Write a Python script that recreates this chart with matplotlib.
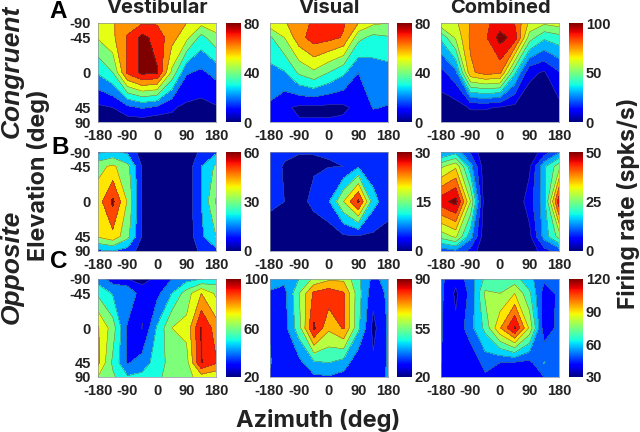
import numpy as np
import matplotlib
matplotlib.use('Agg')
import matplotlib.pyplot as plt
from matplotlib.cm import ScalarMappable
from matplotlib.colors import Normalize
from matplotlib.transforms import ScaledTranslation

azimuth = [-180, -135, -90, -45, 0, 45, 90, 135, 180]
elevation = [-90, -45, 0, 45, 90]
az_ticks = [-180, -90, 0, 90, 180]
el_ticks = [-90, -45, 0, 45, 90]

a_vest = [[56, 59, 66, 69, 69, 65, 60, 53, 56],
          [51, 58, 71, 83, 76, 64, 53, 36.5, 47],
          [31, 40, 72, 83, 81, 48, 21, 18, 23],
          [8, 10, 17, 21, 18, 11, 8, 7, 9],
          [3, 3, 5, 5, 3, 8, 4, 3, 3]]
a_vis = [[56, 59, 65, 72, 72, 71, 60, 52, 50],
         [38, 50, 66, 75, 73, 69, 43, 37, 39],
         [27, 29, 42, 48, 40, 32, 20, 25, 26],
         [18.5, 12, 8, 8, 7.5, 8, 13, 20.5, 19.5],
         [11, 11, 11, 11, 11, 12, 14, 16, 16]]
a_comb = [[68, 68, 81, 88, 94, 89, 68, 62, 65],
          [42, 62, 82, 88, 104, 96, 55, 42, 46],
          [16, 27, 78, 84, 82, 42, 12, 9, 19],
          [5, 5, 11, 11, 9, 7, 5, 6, 7],
          [4, 4, 5, 5, 5, 5, 5, 5, 4]]
b_vest = [[18, 22, 18, 5, 3, 3, 3, 12, 18],
          [37, 42, 33, 9, 3, 3, 3, 20, 32],
          [45, 62, 39, 9, 3, 3, 3, 20, 41],
          [41, 47, 33, 9, 3, 3, 3, 18, 30],
          [18, 20, 16, 5, 3, 3, 3, 12, 17]]
b_vis = [[5.5, 5.2, 5.1, 5.1, 5.1, 5.2, 5.2, 5.5, 5.5],
         [5.5, 4.9, 4.5, 4.6, 4.9, 5.0, 9.5, 7, 6],
         [5.5, 5, 3.7, 6, 9.5, 20, 31, 12, 6.5],
         [3.8, 2.5, 2.5, 2.5, 1.9, 4.2, 4.5, 4, 3.8],
         [3, 2, 2, 2, 2, 3, 3, 3, 3]]
b_comb = [[14, 18, 9, 1, 1, 1, 2, 7, 14],
          [29, 34, 17, 1, 1, 1, 4, 19, 28],
          [48, 52, 30, 1, 1, 1, 7.5, 18, 48],
          [27, 31, 17, 1, 1, 1, 3.5, 17, 27],
          [12, 14, 8, 1, 1, 1, 1, 8, 12]]
c_vest = [[45, 35, 30, 28, 31, 40, 46, 50, 55],
          [58, 49, 50, 33, 37, 50, 65, 80, 68],
          [81, 65, 38, 29.5, 51, 70, 73, 100.5, 85],
          [82, 58, 39, 44, 55, 64, 66, 100.5, 91],
          [70, 62, 51, 53, 58, 64, 66, 75, 72]]
c_vis = [[42, 43, 50, 62, 68, 68, 52, 37, 44],
         [39.5, 36, 60, 82, 86, 81, 54, 33, 42],
         [39.5, 36, 56, 91.5, 72, 81, 52, 27, 41],
         [41, 33, 37, 48, 50, 46, 32, 31.5, 41],
         [39, 33, 36, 38, 39, 36, 30, 32, 42]]
c_comb = [[52, 43, 55, 72, 72, 74, 63, 52, 53],
          [52, 38, 53, 82, 80, 90, 72, 44, 52],
          [51, 42, 56, 73, 99, 121, 88, 43, 53],
          [50, 47, 42, 54, 50, 49, 47, 60.5, 55],
          [42, 47, 47, 48, 42, 42, 42, 50, 52]]

a_vest_levels = [0, 10, 20, 30, 40, 50, 60, 70, 80]
a_vis_levels = [0, 10, 20, 30, 40, 50, 60, 70, 80]
a_comb_levels = [0, 10, 20, 30, 40, 50, 60, 70, 80, 90, 100]
b_vest_levels = [0, 10, 20, 30, 40, 50, 60]
b_vis_levels = [0, 5, 10, 15, 20, 25, 30]
b_comb_levels = [0, 5, 10, 15, 20, 25, 30, 35, 40, 45, 50]
c_vest_levels = [20, 30, 40, 50, 60, 70, 80, 90, 100]
c_vis_levels = [20, 30, 40, 50, 60, 70, 80, 90]
c_comb_levels = [30, 40, 50, 60, 70, 80, 90, 100, 110, 120]

a_ticks = ([0, 40, 80], [0, 40, 80], [0, 50, 100])
b_ticks = ([0, 30, 60], [0, 15, 30], [0, 25, 50])
c_ticks = ([20, 60, 100], [20, 55, 90], [30, 60, 90, 120])

W, H = 640, 432
fig = plt.figure(figsize=(W / 100, H / 100), dpi=100, facecolor='white')
TICK = dict(family='Liberation Sans', fontweight='bold', fontsize=10.5, color='#222222')
HEAD = ['Inter', 'DejaVu Sans']
x_shift_px = [-4, -3, 0, 0, -2]


def box(x0, y0, x1, y1):
    return [x0 / W, 1 - y1 / H, (x1 - x0) / W, (y1 - y0) / H]


col_x = [(98, 216, 226, 241), (269.5, 388, 397, 412), (441, 559, 569, 583)]
row_y = [(23, 122), (152, 251), (279, 377)]
panels = [[a_vest, a_vis, a_comb], [b_vest, b_vis, b_comb], [c_vest, c_vis, c_comb]]
levels = [[a_vest_levels, a_vis_levels, a_comb_levels],
          [b_vest_levels, b_vis_levels, b_comb_levels],
          [c_vest_levels, c_vis_levels, c_comb_levels]]
ticks = [a_ticks, b_ticks, c_ticks]
jet = plt.get_cmap('jet')
sin_el = np.sin(np.radians(elevation))
X, Y = np.meshgrid(azimuth, sin_el)

for r, (y0, y1) in enumerate(row_y):
    for c, (x0, x1, cx0, cx1) in enumerate(col_x):
        ax = fig.add_axes(box(x0, y0, x1, y1))
        lv = np.array(levels[r][c], dtype=float)
        n = len(lv)
        cols = [jet(i / (n - 1)) for i in range(n)]
        Z = np.array(panels[r][c], dtype=float)
        ax.contourf(X, Y, Z, levels=np.r_[lv, lv[-1] + 1000], colors=cols)
        ax.contour(X, Y, Z, levels=lv[1:], colors='#505050', linewidths=0.3)
        ax.set_xlim(-180, 180)
        ax.set_ylim(1, -1)
        ax.set_xticks(az_ticks)
        ax.set_xticklabels([str(t) for t in az_ticks], **TICK)
        for lab, dx in zip(ax.get_xticklabels(), x_shift_px):
            lab.set_transform(lab.get_transform() + ScaledTranslation(dx / 100, 0, fig.dpi_scale_trans))
        ax.set_yticks(np.sin(np.radians(el_ticks)))
        if c == 0:
            ax.set_yticklabels([str(t) for t in el_ticks], **TICK)
        else:
            ax.set_yticklabels([])
        ax.tick_params(length=0, pad=5)
        for s in ax.spines.values():
            s.set_linewidth(0.5)
            s.set_color('#8890a0')

        cax = fig.add_axes(box(cx0, y0, cx1, y1))
        sm = ScalarMappable(Normalize(lv[0], lv[-1]), jet)
        cb = fig.colorbar(sm, cax=cax)
        cb.outline.set_visible(False)
        cb.set_ticks(ticks[r][c])
        cax.set_yticklabels([str(t) for t in ticks[r][c]], **TICK)
        cax.tick_params(length=0, pad=2)

titles = ['Vestibular', 'Visual', 'Combined']
for t, cx in zip(titles, [157, 329, 500]):
    fig.text(cx / W, 1 - 8 / H, t, ha='center', va='center', family=HEAD, fontweight='bold',
             fontsize=14.5, color='#222222')

for letter, lx, ly in [('A', 58, 12), ('B', 60, 147), ('C', 59, 262)]:
    fig.text(lx / W, 1 - ly / H, letter, ha='center', va='center', family='Liberation Sans',
             fontweight='bold', fontsize=17.5, color='black')

fig.text(12 / W, 1 - 71 / H, 'Congruent', rotation=90, ha='center', va='center', family='Liberation Sans',
         fontweight='bold', style='italic', fontsize=19, color='#222222')
fig.text(12 / W, 1 - 267 / H, 'Opposite', rotation=90, ha='center', va='center', family='Liberation Sans',
         fontweight='bold', style='italic', fontsize=19, color='#222222')
fig.text(39 / W, 1 - 175 / H, 'Elevation (deg)', rotation=90, ha='center', va='center', family=HEAD,
         fontweight='bold', fontsize=16.8, color='#222222')
fig.text(628 / W, 1 - 203 / H, 'Firing rate (spks/s)', rotation=90, ha='center', va='center', family=HEAD,
         fontweight='bold', fontsize=16.5, color='#222222')
fig.text(318 / W, 1 - 421 / H, 'Azimuth (deg)', ha='center', va='center', family=HEAD,
         fontweight='bold', fontsize=17, color='#222222')

fig.savefig('out.png', dpi=100)
